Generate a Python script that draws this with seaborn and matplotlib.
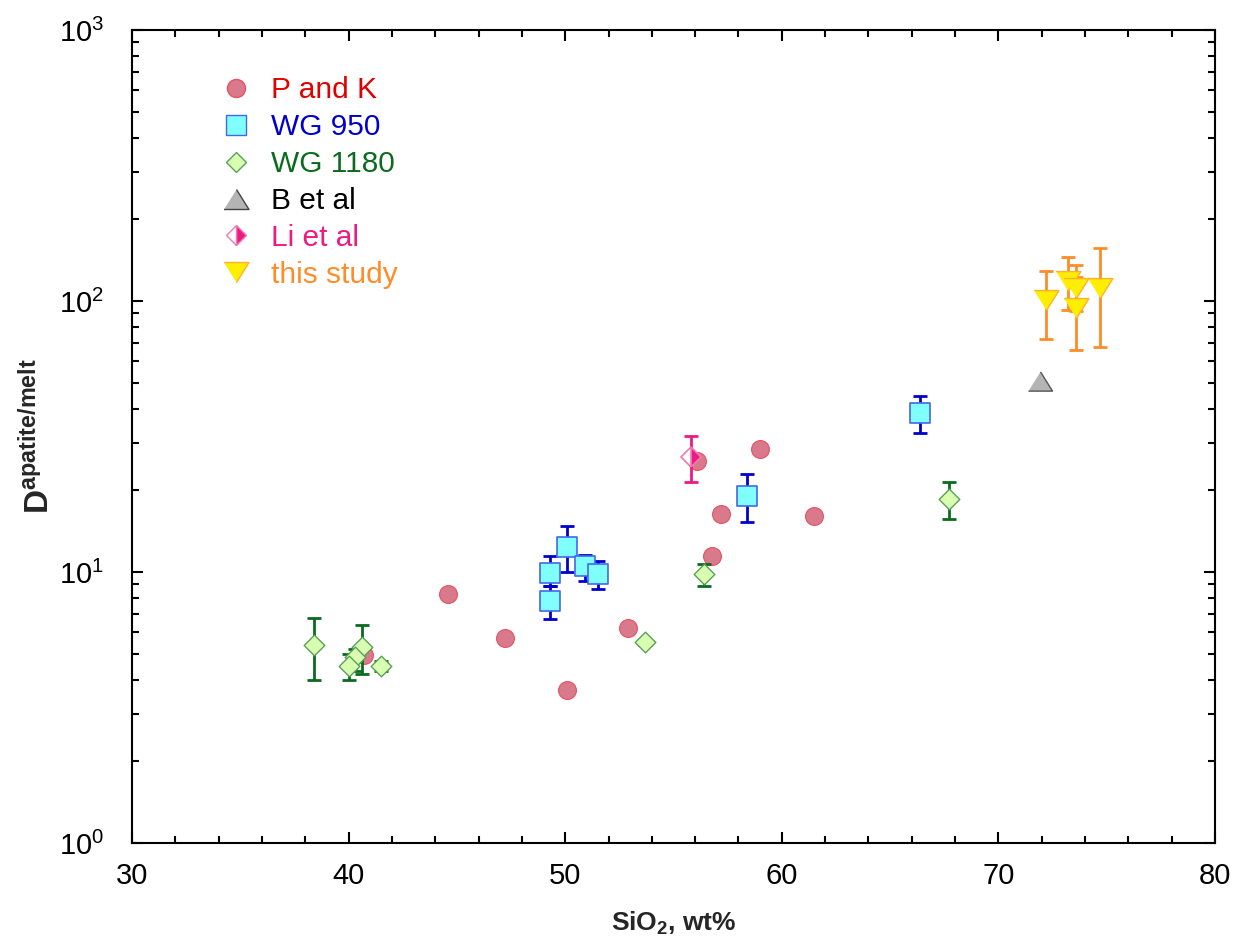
import numpy as np
import pandas as pd
import matplotlib
matplotlib.use("Agg")
import matplotlib.pyplot as plt
import seaborn as sns
from matplotlib.lines import Line2D
from matplotlib.ticker import MultipleLocator, LogLocator

# ---- data ----
pk_x = [44.6, 47.2, 40.7, 50.1, 52.9, 56.1, 59.0, 57.2, 56.8, 61.5]
pk_y = [8.3, 5.7, 4.95, 3.67, 6.2, 25.7, 28.4, 16.4, 11.5, 16.1]

wg950_x = [49.3, 49.3, 50.1, 50.9, 51.5, 58.4, 66.4]
wg950_y = [7.8, 9.9, 12.4, 10.5, 9.8, 19.1, 38.6]
wg950_lo = [6.7, 8.9, 10.0, 9.3, 8.65, 15.3, 32.6]
wg950_hi = [8.9, 11.5, 14.8, 11.6, 11.0, 23.0, 44.6]

wg1180_x = [38.4, 40.6, 40.3, 40.0, 41.5, 53.7, 56.4, 67.7]
wg1180_y = [5.38, 5.29, 4.85, 4.5, 4.5, 5.52, 9.84, 18.6]
wg1180_lo = [4.0, 4.2, 4.3, 4.0, 4.3, 5.4, 8.9, 15.7]
wg1180_hi = [6.76, 6.37, 5.2, 5.0, 4.7, 5.6, 10.7, 21.5]

bet_x = [71.9]
bet_y = [50.5]

li_x = [55.8]
li_y = [26.6]
li_lo = [21.5]
li_hi = [31.8]

ts_x = [72.2, 73.2, 73.6, 73.6, 74.7]
ts_y = [101.0, 119.0, 112.0, 94.5, 112.0]
ts_lo = [72.4, 92.7, 92.0, 65.9, 67.6]
ts_hi = [129.0, 145.0, 136.0, 123.0, 157.0]

labels = ["P and K", "WG 950", "WG 1180", "B et al", "Li et al", "this study"]
label_colors = ["#e00000", "#0000cc", "#0a6b1e", "#000000", "#ee1a83", "#ff8c28"]

# ---- style ----
sns.set_theme(style="ticks")
plt.rcParams['font.family'] = ['Liberation Sans', 'DejaVu Sans']
plt.rcParams['mathtext.fontset'] = 'custom'
plt.rcParams['mathtext.rm'] = 'Liberation Sans'
plt.rcParams['mathtext.bf'] = 'Liberation Sans:bold'
plt.rcParams['mathtext.it'] = 'Liberation Sans:italic'

fig = plt.figure(figsize=(12.36, 9.49), dpi=100)
ax = fig.add_axes([0.1068, 0.1117, 0.8762, 0.8567])

tri_down = [(-1, 0.8), (1, 0.8), (0, -0.8)]
tri_up = [(-1, -0.8), (1, -0.8), (0, 0.8)]

def err(y, lo, hi):
    y = np.asarray(y); return [y - np.asarray(lo), np.asarray(hi) - y]

# P and K circles
sns.scatterplot(x=pk_x, y=pk_y, ax=ax, marker='o', s=165, color='#d97a8c',
                edgecolor='#e8505f', linewidth=0.8, zorder=3, legend=False)

# WG 950
ax.errorbar(wg950_x, wg950_y, yerr=err(wg950_y, wg950_lo, wg950_hi), fmt='none',
            ecolor='#0000cc', elinewidth=2, capsize=5, capthick=2, zorder=4)
sns.scatterplot(x=wg950_x, y=wg950_y, ax=ax, marker='s', s=225, color='#80ffff',
                edgecolor='#4466ee', linewidth=1.2, zorder=5, legend=False)

# WG 1180
ax.errorbar(wg1180_x, wg1180_y, yerr=err(wg1180_y, wg1180_lo, wg1180_hi), fmt='none',
            ecolor='#0a6b1e', elinewidth=2, capsize=5, capthick=2, zorder=4)
sns.scatterplot(x=wg1180_x, y=wg1180_y, ax=ax, marker='D', s=110, color='#d9ffb0',
                edgecolor='#5aa05a', linewidth=1.0, zorder=5, legend=False)

# B et al
sns.scatterplot(x=bet_x, y=bet_y, ax=ax, marker=tri_up, s=300, color='#b4b4b4',
                edgecolor='#555555', linewidth=1.0, zorder=5, legend=False)

# Li et al
ax.errorbar(li_x, li_y, yerr=err(li_y, li_lo, li_hi), fmt='none',
            ecolor='#ee1a83', elinewidth=2, capsize=5, capthick=2, zorder=6)
ax.plot(li_x, li_y, linestyle='none', marker='D', markersize=10, fillstyle='right',
        markerfacecolor='#ee1a83', markerfacecoloralt='white',
        markeredgecolor='#f07ab0', markeredgewidth=1.2, zorder=7)

# this study
ax.errorbar(ts_x, ts_y, yerr=err(ts_y, ts_lo, ts_hi), fmt='none',
            ecolor='#ff8c28', elinewidth=2, capsize=5, capthick=2, zorder=4)
sns.scatterplot(x=ts_x, y=ts_y, ax=ax, marker=tri_down, s=320, color='#ffee00',
                edgecolor='#ffb030', linewidth=1.0, zorder=5, legend=False)

# axes
ax.set_yscale('log')
ax.set_xlim(30, 80)
ax.set_ylim(1, 1000)
ax.xaxis.set_major_locator(MultipleLocator(10))
ax.xaxis.set_minor_locator(MultipleLocator(2))
ax.yaxis.set_major_locator(LogLocator(base=10, numticks=10))
ax.yaxis.set_minor_locator(LogLocator(base=10, subs=np.arange(2, 10), numticks=20))
ax.tick_params(which='both', direction='in', top=True, right=True, colors='black')
ax.tick_params(which='major', length=8, width=1.5, labelsize=21)
ax.tick_params(which='minor', length=5, width=1.5)
ax.tick_params(axis='x', which='major', pad=14)
ax.tick_params(axis='y', which='major', pad=20)
for sp in ax.spines.values():
    sp.set_linewidth(1.5)
    sp.set_color('black')

ax.set_xlabel(r'SiO$_\mathbf{2}$, wt%', fontsize=19, fontweight='bold', labelpad=14)
ax.set_ylabel(r'$\mathbf{D}^{\mathbf{apatite/melt}}$', fontsize=24, labelpad=2)

# legend
handles = [
    Line2D([], [], linestyle='none', marker='o', markersize=13, markerfacecolor='#d97a8c', markeredgecolor='#e8505f'),
    Line2D([], [], linestyle='none', marker='s', markersize=15, markerfacecolor='#80ffff', markeredgecolor='#4466ee'),
    Line2D([], [], linestyle='none', marker='D', markersize=10, markerfacecolor='#d9ffb0', markeredgecolor='#5aa05a'),
    Line2D([], [], linestyle='none', marker=tri_up, markersize=18, markerfacecolor='#b4b4b4', markeredgecolor='#444444'),
    Line2D([], [], linestyle='none', marker='D', markersize=10, fillstyle='right', markerfacecolor='#ee1a83',
           markerfacecoloralt='white', markeredgecolor='#f07ab0'),
    Line2D([], [], linestyle='none', marker=tri_down, markersize=18, markerfacecolor='#ffee00', markeredgecolor='#ffb030'),
]
leg = ax.legend(handles, labels, loc='upper left', bbox_to_anchor=(0.066, 0.958), frameon=False,
                fontsize=21.5, handletextpad=0.45, labelspacing=0.3, borderaxespad=0,
                handlelength=1.4)
for t, c in zip(leg.get_texts(), label_colors):
    t.set_color(c)

fig.savefig('out.png', dpi=100, facecolor='white')
